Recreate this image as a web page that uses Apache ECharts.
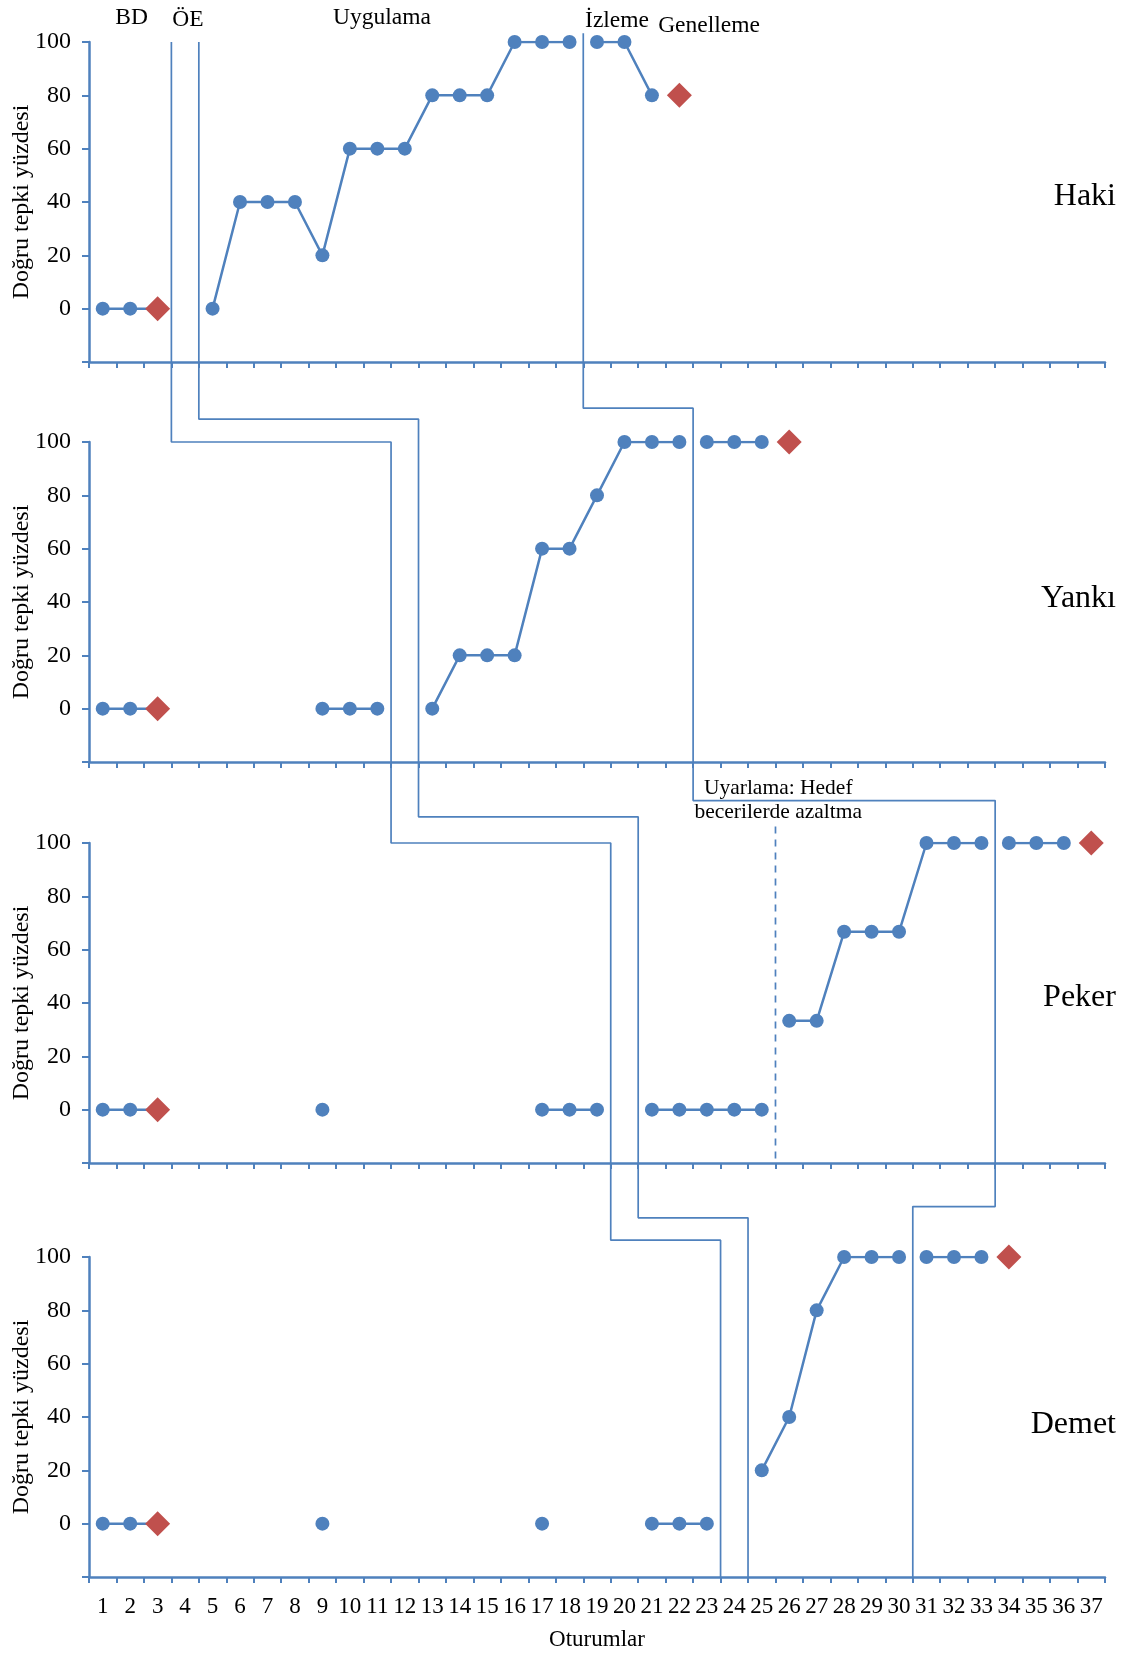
<!DOCTYPE html>
<html><head><meta charset="utf-8">
<script src="https://cdn.jsdelivr.net/npm/echarts@6/dist/echarts.min.js"></script>
<style>html,body{margin:0;padding:0;background:#fff}#c{width:1128px;height:1657px}</style>
</head><body><div id="c"></div>
<script>
// ---------- DATA ----------
const sessions = ['1','2','3','4','5','6','7','8','9','10','11','12','13','14','15','16','17','18','19','20',
  '21','22','23','24','25','26','27','28','29','30','31','32','33','34','35','36','37'];
const students = ['Haki', 'Yankı', 'Peker', 'Demet'];
const yTicks = [0, 20, 40, 60, 80, 100];

// values per session (null = no session)
const hakiValues  = [0,0,0,null,0,40,40,40,20,60,60,60,80,80,80,100,100,100,100,100,80,80,
  null,null,null,null,null,null,null,null,null,null,null,null,null,null,null];
const yankiValues = [0,0,0,null,null,null,null,null,0,0,0,null,0,20,20,20,60,60,80,100,100,100,100,100,100,100,
  null,null,null,null,null,null,null,null,null,null,null];
const pekerValues = [0,0,0,null,null,null,null,null,0,null,null,null,null,null,null,null,0,0,0,null,
  0,0,0,0,0,33.3,33.3,66.7,66.7,66.7,100,100,100,100,100,100,100];
const demetValues = [0,0,0,null,null,null,null,null,0,null,null,null,null,null,null,null,0,null,null,null,
  0,0,0,null,20,40,80,100,100,100,100,100,100,100,null,null,null];

// probe / generalisation sessions (diamonds)
const hakiDiamonds  = [3, 22];
const yankiDiamonds = [3, 26];
const pekerDiamonds = [3, 37];
const demetDiamonds = [3, 34];

// no connecting line after these sessions
const hakiBreaks  = [18, 21];
const yankiBreaks = [22, 25];
const pekerBreaks = [25, 33, 36];
const demetBreaks = [30, 33];

// phase change lines: boundary (after session n) in each panel, and the level where each step runs
const phaseA = [3, 11, 19, 23];
const phaseB = [4, 12, 20, 24];
const phaseC = [18, 22, 33, 30];
const levelA = [100, 100, 100, 106.3];
const levelB = [100, 108.6, 109.8, 114.7];
const levelC = [103.3, 112.7, 115.9, 118.9];
const adaptationLine = 25;   // dashed line in Peker panel

const phaseNames = ['BD', 'ÖE', 'Uygulama', 'İzleme', 'Genelleme'];
const phaseNameX = [1.55, 3.6, 10.67, 19.23, 22.58];
const phaseNameY = [108.9, 108.5, 108.9, 107.8, 105.9];

// ---------- LAYOUT / STYLE ----------
const blue = '#4F81BD', red = '#C0504D', axisBlue = '#4F81BD';
const serif = '"Liberation Serif", "Times New Roman", serif';
const H = 320, LEFT = 89, WIDTH = 1016;
const tops = [42, 442, 843, 1257];
const unitPx = H / 120;

const valuesList = [hakiValues, yankiValues, pekerValues, demetValues];
const diamondsList = [hakiDiamonds, yankiDiamonds, pekerDiamonds, demetDiamonds];
const breaksList = [hakiBreaks, yankiBreaks, pekerBreaks, demetBreaks];

const chart = echarts.init(document.getElementById('c'));

const grid = tops.map(t => ({left: LEFT, width: WIDTH, top: t, height: H, containLabel: false, outerBoundsMode: 'none'}));
const xAxis = [];
tops.forEach((t, k) => {
  const last = k === 3;
  xAxis.push({
    type: 'category', gridIndex: k, data: sessions, boundaryGap: true, position: 'bottom',
    axisLine: {onZero: false, lineStyle: {color: axisBlue, width: 2.5}},
    axisTick: {show: true, interval: 0, length: 6, lineStyle: {color: axisBlue, width: 2}},
    axisLabel: {show: last, interval: 0, margin: 18, color: '#000', fontFamily: serif, fontSize: 23, hideOverlap: false},
    name: last ? 'Oturumlar' : '', nameLocation: 'middle', nameGap: 51,
    nameTextStyle: {color: '#000', fontFamily: serif, fontSize: 23},
    splitLine: {show: false}
  });
});
tops.forEach((t, k) => {
  xAxis.push({type: 'value', gridIndex: k, min: 0, max: 37, show: false});
});
const yAxis = tops.map((t, k) => ({
  type: 'value', gridIndex: k, min: -20, max: 100, interval: 20,
  axisLine: {show: true, onZero: false, lineStyle: {color: axisBlue, width: 2.5}},
  axisTick: {show: true, length: 7, lineStyle: {color: axisBlue, width: 2}},
  axisLabel: {color: '#000', fontFamily: serif, fontSize: 24, margin: 18,
    formatter: v => (yTicks.indexOf(v) >= 0 ? String(v) : '')},
  splitLine: {show: false},
  name: 'Doğru tepki yüzdesi', nameLocation: 'middle', nameGap: 55, nameMoveOverlap: false,
  nameTextStyle: {color: '#000', fontFamily: serif, fontSize: 24}
}));

const series = [];
valuesList.forEach((vals, k) => {
  const runs = [];
  let run = null;
  vals.forEach((v, i) => {
    const s = i + 1;
    if (v == null) { run = null; return; }
    if (run && breaksList[k].indexOf(s - 1) < 0) run.push(i);
    else { run = [i]; runs.push(run); }
  });
  runs.forEach(r => {
    const data = sessions.map(() => '-');
    r.forEach(i => {
      if (diamondsList[k].indexOf(i + 1) >= 0) {
        data[i] = {value: vals[i], symbol: 'diamond', symbolSize: 25, itemStyle: {color: red}};
      } else data[i] = vals[i];
    });
    series.push({
      type: 'line', xAxisIndex: k, yAxisIndex: k, data, symbol: 'circle', symbolSize: 14,
      showAllSymbol: true, connectNulls: false, silent: true, z: 5,
      lineStyle: {color: blue, width: 2.5}, itemStyle: {color: blue, borderWidth: 0}
    });
  });
});

function phasePath(xs, levels, k) {
  if (k === 0) return [[xs[0], levels[0]], [xs[0], -20]];
  const gapUnits = (tops[k] - (tops[k - 1] + H)) / unitPx;
  const topVal = 100 + gapUnits;
  return [[xs[k - 1], topVal], [xs[k - 1], levels[k]], [xs[k], levels[k]], [xs[k], -20]];
}
[[phaseA, levelA], [phaseB, levelB], [phaseC, levelC]].forEach(([xs, lv]) => {
  for (let k = 0; k < 4; k++) {
    series.push({
      type: 'line', xAxisIndex: 4 + k, yAxisIndex: k, data: phasePath(xs, lv, k),
      symbol: 'none', clip: false, silent: true, z: 2,
      lineStyle: {color: blue, width: 1.7}
    });
  }
});
series.push({
  type: 'line', xAxisIndex: 6, yAxisIndex: 2, data: [[adaptationLine, 106.2], [adaptationLine, -20]],
  symbol: 'none', clip: false, silent: true, z: 2,
  lineStyle: {color: blue, width: 1.7, type: [7, 6]}
});

chart.setOption({animation: false, backgroundColor: '#fff', grid, xAxis, yAxis, series});

// ---------- ANNOTATION TEXT ----------
const px = (k, x, y) => chart.convertToPixel({xAxisIndex: 4 + k, yAxisIndex: k}, [x, y]);
const graphic = [];
phaseNames.forEach((n, i) => {
  const p = px(0, phaseNameX[i], phaseNameY[i]);
  graphic.push({type: 'text', x: p[0], y: p[1], silent: true,
    style: {text: n, fill: '#000', fontFamily: serif, fontSize: 23.5, align: 'center', verticalAlign: 'middle'}});
});
const nameY = [41.9, 41.1, 42, 37.1];
students.forEach((n, k) => {
  const p = px(k, 37.4, nameY[k]);
  graphic.push({type: 'text', x: p[0], y: p[1], silent: true,
    style: {text: n, fill: '#000', fontFamily: serif, fontSize: 32, align: 'right', verticalAlign: 'middle'}});
});
const ua = px(2, 25.1, 115.9);
graphic.push({type: 'text', x: ua[0], y: ua[1], silent: true,
  style: {text: 'Uyarlama: Hedef\nbecerilerde azaltma', fill: '#000', fontFamily: serif, fontSize: 21.5,
    lineHeight: 24, align: 'center', verticalAlign: 'middle'}});
chart.setOption({graphic});
</script>
</body></html>
